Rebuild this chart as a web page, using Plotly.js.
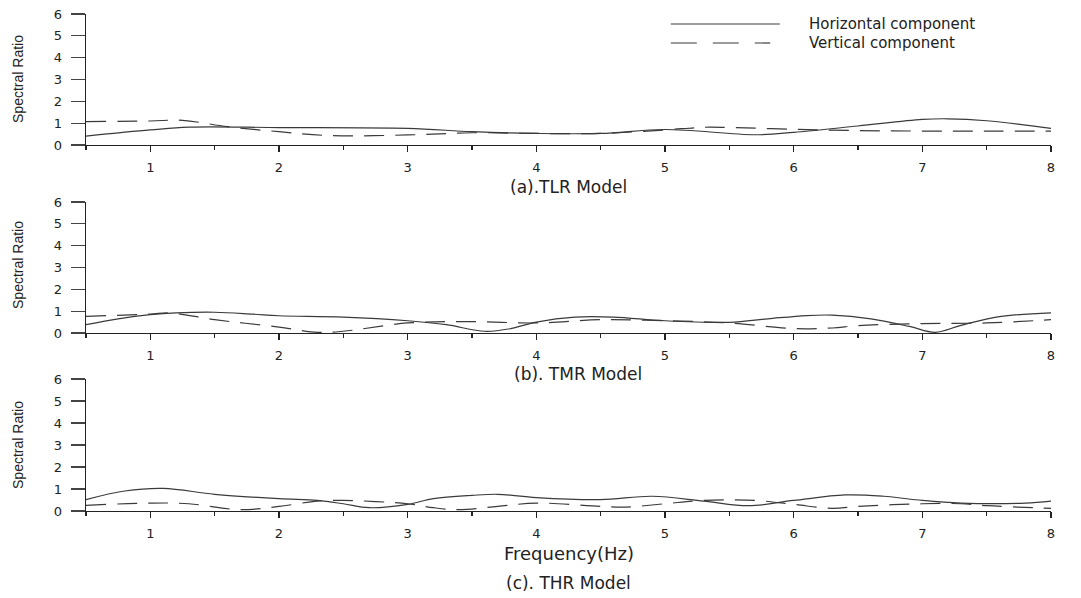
<!DOCTYPE html>
<html>
<head>
<meta charset="utf-8">
<script src="https://cdn.plot.ly/plotly-3.0.1.min.js"></script>
<style>html,body{margin:0;padding:0;background:#fff;}#chart{width:1081px;height:598px;}</style>
</head>
<body>
<div id="chart"></div>
<script>
// ---- data ----
var seriesNames = ["Horizontal component", "Vertical component"];
var panelTitles = ["(a).TLR Model", "(b). TMR Model", "(c). THR Model"];
var xTitle = "Frequency(Hz)";
var yTitle = "Spectral Ratio";

// (a) TLR
var tlrHx = [0.5,1,1.3,2,3,3.5,4,4.5,5,5.7,6,6.5,7,7.2,7.5,8];
var tlrHy = [0.41,0.69,0.82,0.8,0.76,0.61,0.53,0.53,0.71,0.47,0.58,0.87,1.17,1.2,1.11,0.76];
var tlrVx = [0.5,1,1.25,1.6,2,2.4,3,3.5,4,4.5,5,5.3,5.5,6,6.5,7,7.5,8];
var tlrVy = [1.07,1.10,1.13,0.84,0.61,0.43,0.46,0.56,0.53,0.53,0.69,0.81,0.8,0.72,0.66,0.64,0.64,0.64];

// (b) TMR
var tmrHx = [0.5,0.75,1,1.2,1.5,1.8,2,2.5,3,3.3,3.6,3.8,4,4.3,4.6,5,5.5,5.8,6.1,6.3,6.6,6.9,7.1,7.3,7.6,8];
var tmrHy = [0.38,0.65,0.84,0.92,0.95,0.86,0.79,0.73,0.56,0.38,0.08,0.2,0.5,0.73,0.73,0.56,0.49,0.65,0.8,0.82,0.65,0.3,0.03,0.35,0.75,0.92];
var tmrVx = [0.5,1,1.15,1.5,2,2.3,2.5,3,3.5,4,4.5,5,5.5,6,6.3,6.5,7,7.5,8];
var tmrVy = [0.76,0.87,0.92,0.61,0.27,0.03,0.08,0.46,0.52,0.46,0.61,0.56,0.46,0.2,0.23,0.34,0.43,0.46,0.61];

// (c) THR
var thrHx = [0.5,0.8,1.1,1.5,2,2.3,2.5,2.7,3,3.2,3.5,3.7,4,4.5,4.9,5.3,5.65,6,6.4,6.7,7,7.3,7.8,8];
var thrHy = [0.52,0.91,1.03,0.76,0.56,0.48,0.33,0.15,0.3,0.56,0.71,0.76,0.61,0.52,0.67,0.45,0.24,0.48,0.73,0.67,0.48,0.36,0.36,0.45];
var thrVx = [0.5,1,1.3,1.7,2,2.3,2.5,3,3.2,3.4,3.7,4,4.5,4.7,5,5.3,5.7,6,6.3,6.5,7,7.3,7.5,8];
var thrVy = [0.26,0.36,0.33,0.06,0.21,0.45,0.48,0.33,0.15,0.06,0.21,0.36,0.21,0.18,0.33,0.48,0.48,0.3,0.12,0.21,0.33,0.33,0.24,0.12];

var xRange = [0.5, 8];
var yRange = [0, 6];

// ---- styling ----
var lineColor = "#3a3a3a";
var dashPattern = "20px,11px";
var wideFam = "'DejaVu Sans', Arial, sans-serif";
var fontFam = "Arial, 'Liberation Sans', sans-serif";

function tr(x, y, axIdx, dashed, name) {
  var sfx = axIdx === 1 ? "" : String(axIdx);
  return {
    x: x, y: y, type: "scatter", mode: "lines", name: name, showlegend: false,
    xaxis: "x" + sfx, yaxis: "y" + sfx,
    line: {color: lineColor, width: 1.2, shape: "spline", smoothing: 1, dash: dashed ? dashPattern : "solid"},
    hoverinfo: "skip"
  };
}

var data = [
  tr(tlrHx, tlrHy, 1, false, seriesNames[0]),
  tr(tlrVx, tlrVy, 1, true, seriesNames[1]),
  tr(tmrHx, tmrHy, 2, false, seriesNames[0]),
  tr(tmrVx, tmrVy, 2, true, seriesNames[1]),
  tr(thrHx, thrHy, 3, false, seriesNames[0]),
  tr(thrVx, thrVy, 3, true, seriesNames[1])
];

function xax(anchor) {
  return {
    anchor: anchor, range: xRange, dtick: 1, tick0: 0, ticks: "outside", ticklen: 6, tickwidth: 1.3,
    tickcolor: "#222", showline: true, linecolor: "#222", linewidth: 1.3, showgrid: false, zeroline: false,
    ticklabelstandoff: 4,
    tickfont: {family: wideFam, size: 13, color: "#222"},
    minor: {dtick: 0.5, tick0: 0, ticks: "outside", ticklen: 3.5, tickwidth: 1.2, tickcolor: "#222", showgrid: false},
    fixedrange: true
  };
}
function yax(anchor, domain) {
  return {
    anchor: anchor, domain: domain, range: yRange, dtick: 1, ticks: "outside", ticklen: 14, tickwidth: 1.2,
    tickcolor: "#444", showline: true, linecolor: "#222", linewidth: 1.3, showgrid: false, zeroline: false,
    ticklabelstandoff: 6,
    tickfont: {family: wideFam, size: 13, color: "#222"},
    fixedrange: true
  };
}

var H = 598;
function py(px) { return 1 - px / H; }

function note(text, x, ypx, size, extra) {
  var a = {text: text, xref: "paper", yref: "paper", x: x, y: py(ypx), showarrow: false,
    xanchor: "center", yanchor: "middle", font: {family: wideFam, size: size, color: "#222"}};
  for (var k in extra) a[k] = extra[k];
  return a;
}

var layout = {
  width: 1081, height: 598,
  margin: {l: 86, r: 30, t: 0, b: 0},
  paper_bgcolor: "#fff", plot_bgcolor: "#fff",
  showlegend: false,
  xaxis: xax("y"),
  yaxis: yax("x", [py(145), py(14)]),
  xaxis2: xax("y2"),
  yaxis2: yax("x2", [py(333), py(202)]),
  xaxis3: xax("y3"),
  yaxis3: yax("x3", [py(511), py(379)]),
  annotations: [
    note(panelTitles[0], 0.5, 187, 17, {}),
    note(panelTitles[1], 0.51, 374, 17, {}),
    note(xTitle, 0.5, 553, 18, {}),
    note(panelTitles[2], 0.5, 583, 17, {}),
    note(yTitle, -0.0705, 79, 14, {textangle: -90, font: {family: fontFam, size: 14, color: "#222"}}),
    note(yTitle, -0.0705, 265, 14, {textangle: -90, font: {family: fontFam, size: 14, color: "#222"}}),
    note(yTitle, -0.0705, 445, 14, {textangle: -90, font: {family: fontFam, size: 14, color: "#222"}}),
    note(seriesNames[0], 0.747, 24, 15, {xanchor: "left"}),
    note(seriesNames[1], 0.747, 43, 15, {xanchor: "left"})
  ],
  shapes: [
    {type: "line", xref: "paper", yref: "paper", x0: 0.606, x1: 0.719, y0: py(24), y1: py(24), line: {color: lineColor, width: 1.2}},
    {type: "line", xref: "paper", yref: "paper", x0: 0.606, x1: 0.709, y0: py(43), y1: py(43), line: {color: lineColor, width: 1.2, dash: "26px,16px"}}
  ]
};

Plotly.newPlot("chart", data, layout, {displayModeBar: false, staticPlot: true});
</script>
</body>
</html>
